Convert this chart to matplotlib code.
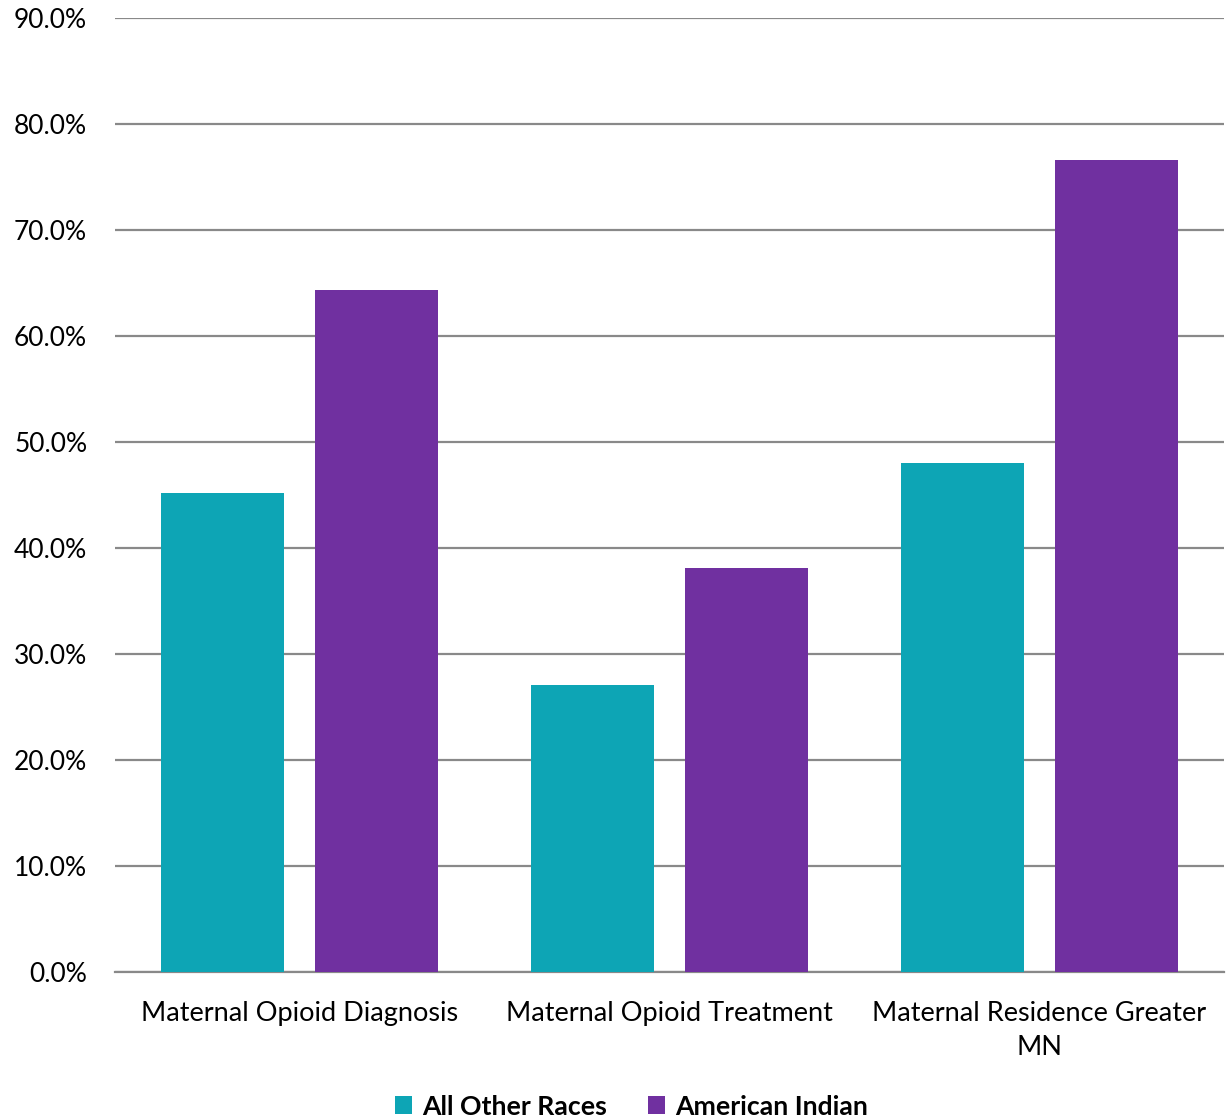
import matplotlib
matplotlib.use("Agg")
import matplotlib.pyplot as plt
import numpy as np
from matplotlib.ticker import FuncFormatter

categories = ["Maternal Opioid Diagnosis", "Maternal Opioid Treatment",
              "Maternal Residence Greater\nMN"]
series_names = ["All Other Races", "American Indian"]
all_other = [45.2, 27.1, 48.0]
american_indian = [64.3, 38.1, 76.6]
colors = ["#0DA5B5", "#7030A0"]

plt.rcParams["font.family"] = ["Lato", "DejaVu Sans"]

fig = plt.figure(figsize=(12.31, 11.18), dpi=100)
ax = fig.add_axes([115 / 1231, 1 - 972 / 1118, (1224 - 115) / 1231, (972 - 18) / 1118])

x = np.arange(len(categories))
w = 0.333
off = w / 2 + 0.042
ax.bar(x - off, all_other, w, color=colors[0], label=series_names[0], zorder=3)
ax.bar(x + off, american_indian, w, color=colors[1], label=series_names[1], zorder=3)

ax.set_xlim(-0.5, 2.5)
ax.set_ylim(0, 90)
ax.set_yticks(np.arange(0, 91, 10))
ax.yaxis.set_major_formatter(FuncFormatter(lambda v, p: f"{v:.1f}%"))
ax.grid(axis="y", color="#898989", linewidth=1.6, zorder=0)
ax.set_axisbelow(True)
for s in ["top", "right", "left"]:
    ax.spines[s].set_visible(False)
ax.spines["bottom"].set_color("#898989")
ax.spines["bottom"].set_linewidth(1.6)
ax.tick_params(axis="y", length=0, pad=20, labelsize=19, labelcolor="#000000")
ax.tick_params(axis="x", length=0, pad=21, labelsize=19.5, labelcolor="#000000")
ax.set_xticks(x)
ax.set_xticklabels(categories, linespacing=1.45)

leg = fig.legend(loc="lower center", bbox_to_anchor=(0.513, -0.022), ncol=2,
                 frameon=False, handlelength=0.65, handleheight=0.65,
                 handletextpad=0.4, columnspacing=1.5,
                 prop={"weight": "bold", "size": 19.2})

fig.savefig("out.png", dpi=100)
